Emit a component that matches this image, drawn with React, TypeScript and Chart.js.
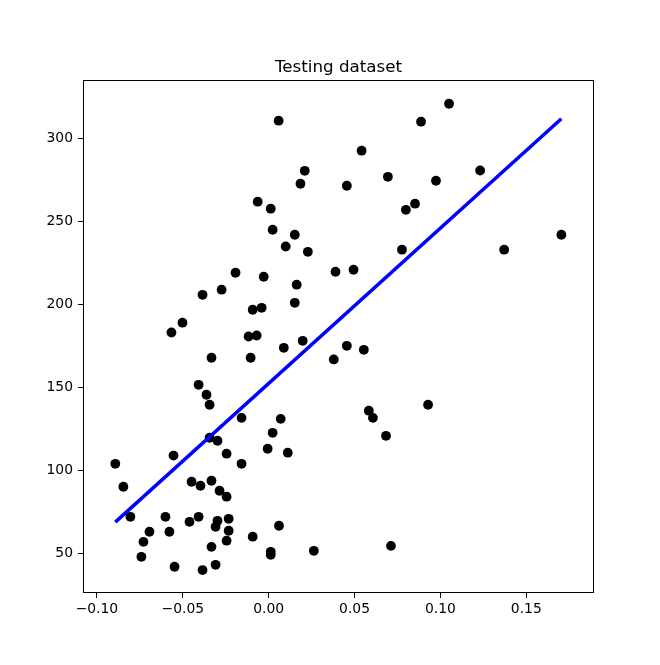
import React, { useEffect, useRef } from "react";
import { Chart, registerables } from "chart.js";

Chart.register(...registerables);

const titleText = "Testing dataset";

const scatterX = [
  0.0058, 0.021, 0.0185, -0.0064, 0.0012, 0.0023, 0.0152, 0.0099, 0.0228, 0.0389, -0.0193, -0.0029, 0.0163, -0.0274, -0.0385, 0.0152, -0.0093, -0.0041, -0.0502, -0.0566, -0.0117, -0.007,
  0.105, 0.0887, 0.0541, 0.1231, 0.0694, 0.0455, 0.0974, 0.0852, 0.0799, 0.1704, 0.1371, 0.0776, 0.0494,
  -0.0333, -0.0105, 0.0088, 0.0198, 0.0379, -0.0408, -0.0362, -0.0344, -0.0158, 0.007, 0.0023, -0.0344, -0.0298, -0.0006, 0.0111, -0.0245, -0.0554, -0.0893, -0.0158, -0.0846, -0.0449, -0.0397, -0.0333, -0.0286, -0.0245, -0.0805, -0.0601, -0.0408, -0.0461, -0.0298, -0.0309, -0.0233, -0.0233, -0.0694, -0.0578, 0.006, -0.0729, -0.0245, -0.0093, -0.0333, 0.0012, 0.0012, 0.0263, -0.0741, -0.0548, -0.0385, -0.0309,
  0.0455, 0.0554, 0.0583, 0.0607, 0.0683, 0.0928, 0.0712,
];

const scatterY = [
  310.7, 280.5, 272.7, 261.9, 257.7, 245, 242, 234.9, 231.7, 219.7, 219.1, 216.7, 211.9, 208.9, 205.8, 201, 196.8, 198, 189, 183.1, 180.7, 181.3,
  320.9, 310.1, 292.6, 280.7, 276.9, 271.5, 274.5, 260.7, 257, 242, 233, 233, 220.9,
  167.9, 167.9, 173.9, 178.1, 166.9, 151.6, 145.6, 139.6, 131.7, 131.1, 122.7, 119.7, 117.9, 113.1, 110.7, 110.1, 109, 104, 104, 90.2, 93.2, 90.8, 93.8, 87.8, 84.2, 72.1, 72.1, 72.1, 69.1, 69.7, 66.1, 70.9, 63.7, 63.1, 63.1, 66.7, 57, 57.7, 60.1, 54, 51, 49.2, 51.6, 48, 42, 40, 43.2,
  175.1, 172.7, 136, 131.7, 120.9, 139.6, 54.6,
];

const lineX = [-0.0893, 0.1704];
const lineY = [68.9, 311.9];

const xTicks = [-0.1, -0.05, 0, 0.05, 0.1, 0.15];
const xTickLabels = ["\u22120.10", "\u22120.05", "0.00", "0.05", "0.10", "0.15"];
const yTicks = [50, 100, 150, 200, 250, 300];
const yTickLabels = ["50", "100", "150", "200", "250", "300"];

const xMin = -0.1081;
const xMax = 0.1894;
const yMin = 26.2;
const yMax = 335.2;

export default function App() {
  const ref = useRef<HTMLCanvasElement | null>(null);

  useEffect(() => {
    if (!ref.current) return;
    const font = { family: "'DejaVu Sans', sans-serif", size: 13.9 };

    const framePlugin = {
      id: "frame",
      afterDraw(chart: any) {
        const { ctx, chartArea } = chart;
        ctx.save();
        ctx.strokeStyle = "#000";
        ctx.lineWidth = 1;
        ctx.strokeRect(
          Math.round(chartArea.left) + 0.5,
          Math.round(chartArea.top) + 0.5,
          Math.round(chartArea.right - chartArea.left) - 1,
          Math.round(chartArea.bottom - chartArea.top) - 1
        );
        ctx.fillStyle = "#000";
        ctx.font = "16.7px 'DejaVu Sans', sans-serif";
        ctx.textAlign = "center";
        ctx.textBaseline = "alphabetic";
        ctx.fillText(titleText, (chartArea.left + chartArea.right) / 2, 72);
        ctx.restore();
      },
    };

    const chart = new Chart(ref.current, {
      type: "scatter",
      data: {
        datasets: [
          {
            label: "fit",
            data: lineX.map((x, i) => ({ x, y: lineY[i] })),
            showLine: true,
            borderColor: "#0000ff",
            backgroundColor: "#0000ff",
            borderWidth: 3.5,
            pointRadius: 0,
            order: 0,
          },
          {
            label: "test",
            data: scatterX.map((x, i) => ({ x, y: scatterY[i] })),
            backgroundColor: "#000",
            borderColor: "#000",
            borderWidth: 0,
            pointRadius: 4.9,
            order: 1,
          },
        ],
      },
      plugins: [framePlugin],
      options: {
        animation: false,
        responsive: false,
        maintainAspectRatio: false,
        layout: { padding: { left: 0, right: 66, top: 80, bottom: 0 } },
        plugins: {
          legend: { display: false },
          tooltip: { enabled: false },
          title: { display: false },
        },
        scales: {
          x: {
            type: "linear",
            min: xMin,
            max: xMax,
            afterBuildTicks: (s: any) => {
              s.ticks = xTicks.map((v) => ({ value: v }));
            },
            afterFit: (s: any) => {
              s.height = 72;
            },
            grid: {
              drawOnChartArea: false,
              drawTicks: true,
              tickLength: 5,
              tickColor: "#000",
              tickWidth: 1,
            },
            border: { display: false },
            ticks: {
              color: "#000",
              font,
              padding: 3,
              maxRotation: 0,
              autoSkip: false,
              callback: (v: any) => {
                const i = xTicks.findIndex((t) => Math.abs(t - Number(v)) < 1e-9);
                return i >= 0 ? xTickLabels[i] : "";
              },
            },
          },
          y: {
            type: "linear",
            min: yMin,
            max: yMax,
            afterBuildTicks: (s: any) => {
              s.ticks = yTicks.map((v) => ({ value: v }));
            },
            afterFit: (s: any) => {
              s.width = 83;
            },
            grid: {
              drawOnChartArea: false,
              drawTicks: true,
              tickLength: 5,
              tickColor: "#000",
              tickWidth: 1,
            },
            border: { display: false },
            ticks: {
              color: "#000",
              font,
              padding: 5,
              autoSkip: false,
              callback: (v: any) => {
                const i = yTicks.findIndex((t) => Math.abs(t - Number(v)) < 1e-9);
                return i >= 0 ? yTickLabels[i] : "";
              },
            },
          },
        },
      },
    });
    return () => chart.destroy();
  }, []);

  return (
    <div style={{ position: "absolute", left: 0, top: 0, width: 660, height: 665, background: "#fff" }}>
      <canvas ref={ref} width={660} height={665} style={{ width: 660, height: 665, display: "block" }} />
    </div>
  );
}
